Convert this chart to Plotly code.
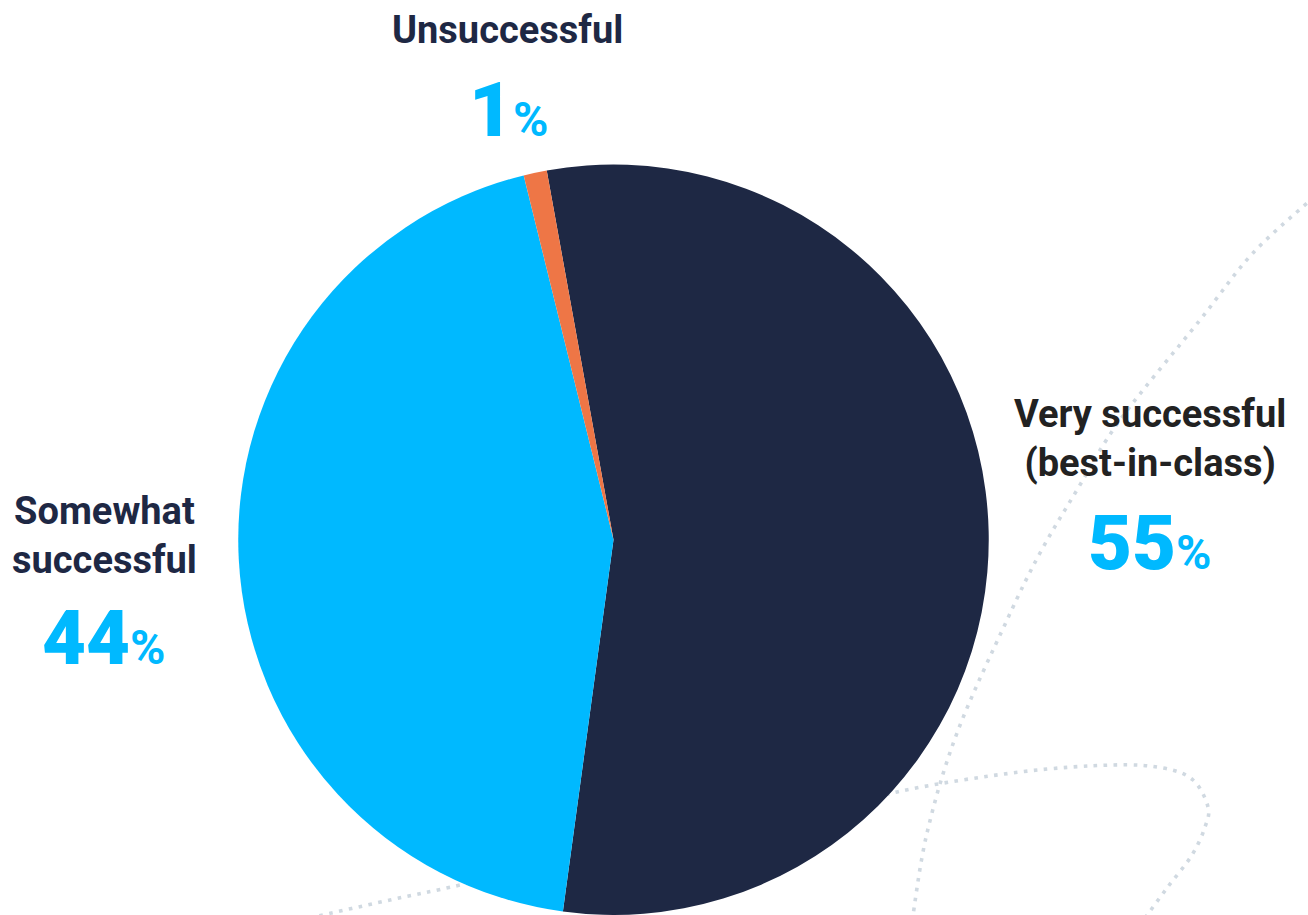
import plotly.graph_objects as go

# Survey outcome shares
categories = ["Very successful<br>(best-in-class)", "Somewhat<br>successful", "Unsuccessful"]
shares = [55, 44, 1]
slice_colors = ["#1e2844", "#00b9ff", "#ee7646"]

W, H = 1308, 915
NAVY = "#1e2844"
INK = "#222222"
BLUE = "#00b9ff"
DOT = "#d0d9e1"


def px(x, y):
    """Convert canvas pixel coordinates to paper coordinates."""
    return x / W, 1 - y / H


def smooth_path(points):
    """Catmull-Rom spline through the given pixel points, as an SVG path in paper units."""
    pts = [px(*p) for p in points]
    d = "M {:.5f},{:.5f}".format(*pts[0])
    for i in range(len(pts) - 1):
        p0 = pts[i - 1] if i > 0 else pts[i]
        p1 = pts[i]
        p2 = pts[i + 1]
        p3 = pts[i + 2] if i + 2 < len(pts) else pts[i + 1]
        c1 = (p1[0] + (p2[0] - p0[0]) / 6, p1[1] + (p2[1] - p0[1]) / 6)
        c2 = (p2[0] - (p3[0] - p1[0]) / 6, p2[1] - (p3[1] - p1[1]) / 6)
        d += " C {:.5f},{:.5f} {:.5f},{:.5f} {:.5f},{:.5f}".format(*c1, *c2, *p2)
    return d


# Decorative dotted swirls in the background
swirls = [
    [(1314, 197), (1253, 253), (1200, 320), (1120, 420), (1077, 490), (1040, 553),
     (1007, 620), (957, 733), (927, 833), (912, 922)],
    [(780, 825), (897, 792), (1020, 772), (1113, 765), (1163, 768), (1193, 780),
     (1208, 807), (1205, 827), (1192, 855), (1167, 888), (1145, 918)],
    [(300, 920), (390, 900), (460, 885), (560, 860)],
]

shapes = [
    dict(type="path", path=smooth_path(s), xref="paper", yref="paper",
         line=dict(color=DOT, width=3.6, dash="3.6px,6.4px"), layer="below")
    for s in swirls
]

# Pie placement: centre ~(613, 540), radius ~375 px
cx, cy, r = 613.5, 540, 375.5
dom_x = [(cx - r) / W, (cx + r) / W]
dom_y = [max(0.0, (H - cy - r) / H), (H - cy + r) / H]

fig = go.Figure(go.Pie(
    labels=categories,
    values=shares,
    marker=dict(colors=slice_colors, line=dict(width=0)),
    sort=False,
    direction="clockwise",
    rotation=-10.25,
    textinfo="none",
    hoverinfo="label+percent",
    showlegend=False,
    domain=dict(x=dom_x, y=dom_y),
))


def pct_text(v):
    return ("<span style='font-size:76px;font-weight:900'>{}</span>"
            "<span style='font-size:48px;font-weight:700'>%</span>").format(v)


label_font = dict(family="Roboto", size=38, weight=700)
annotations = [
    # Unsuccessful (top)
    dict(x=507, y=30, text="Unsuccessful", font=dict(label_font, color=NAVY)),
    dict(x=509, y=110, text=pct_text(shares[2]), font=dict(family="Roboto", color=BLUE)),
    # Very successful (right)
    dict(x=1150, y=438, text="Very successful<br>(best-in-class)", font=dict(label_font, color=INK)),
    dict(x=1150, y=543, text=pct_text(shares[0]), font=dict(family="Roboto", color=BLUE)),
    # Somewhat successful (left)
    dict(x=104, y=535, text="Somewhat<br>successful", font=dict(label_font, color=NAVY)),
    dict(x=104, y=638, text=pct_text(shares[1]), font=dict(family="Roboto", color=BLUE)),
]
for a in annotations:
    a["x"], a["y"] = px(a["x"], a["y"])
    a.update(xref="paper", yref="paper", showarrow=False, xanchor="center", yanchor="middle")

fig.update_layout(
    width=W, height=H,
    margin=dict(l=0, r=0, t=0, b=0),
    paper_bgcolor="white",
    plot_bgcolor="white",
    shapes=shapes,
    annotations=annotations,
)

fig.write_html("out.html")
